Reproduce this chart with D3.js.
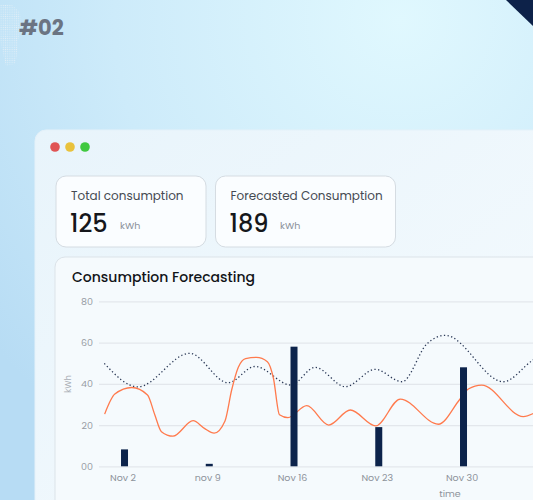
<!DOCTYPE html>
<html>
<head>
<meta charset="utf-8">
<script src="https://cdn.jsdelivr.net/npm/d3@7"></script>
<style>
  html, body { margin: 0; padding: 0; overflow: hidden; background: #c4e6f8; }
  svg { display: block; font-family: Poppins, Inter, "Open Sans", sans-serif; }
</style>
</head>
<body>
<svg id="chart" width="533" height="500"></svg>
<script>
// ---------- data ----------
const barDays = [2, 9, 16, 23, 30];
const tickLabels = ["Nov 2", "nov 9", "Nov 16", "Nov 23", "Nov 30"];
const actualValues = [8.2, 1.2, 58, 19, 48];

const yTicks = [0, 20, 40, 60, 80];
const yTickLabels = ["00", "20", "40", "60", "80"];

// consumption curve (solid orange) – day of November, kWh
const consumptionDays = [0.36, 1.2, 2.6, 3.9, 4.5, 5.05, 6.0, 7.66, 8.6, 9.4, 10.3, 10.85, 11.4, 12.0, 12.9, 13.8, 14.3, 14.8, 15.5, 17.05, 18.87, 20.65, 22.75, 24.78, 27.92, 29.7, 30.4, 31.5, 34.94, 35.8];
const consumptionValues = [25.3, 35, 38.2, 34.6, 25, 16.8, 14.6, 22.1, 18.4, 16.1, 22, 37, 48, 52.2, 52.8, 50.7, 42.7, 25, 23.6, 29.4, 20.0, 27.3, 19.6, 32.6, 20.4, 32.5, 37.5, 39.4, 24.1, 25.7];

// forecast curve (dotted)
const forecastDays = [0.33, 3.1, 7.38, 10.55, 12.78, 15.75, 17.73, 20.25, 22.71, 24.92, 27.0, 28.5, 33.29, 35.74, 36.5];
const forecastValues = [49.9, 38.5, 54.8, 40.5, 48.4, 39.4, 48.0, 38.6, 47.0, 41.0, 59.5, 63.5, 41.0, 51.5, 54];

const totalConsumption = "125";
const forecastedConsumption = "189";

// ---------- drawing ----------
const svg = d3.select("#chart");
const defs = svg.append("defs");

const bg = defs.append("radialGradient").attr("id", "bg")
  .attr("gradientUnits", "userSpaceOnUse")
  .attr("cx", 400).attr("cy", 20).attr("r", 520);
bg.append("stop").attr("offset", 0).attr("stop-color", "#e0f8fe");
bg.append("stop").attr("offset", 0.55).attr("stop-color", "#cdebfa");
bg.append("stop").attr("offset", 1).attr("stop-color", "#b7dcf4");

const win = defs.append("linearGradient").attr("id", "win")
  .attr("x1", 0).attr("y1", 0).attr("x2", 1).attr("y2", 1);
win.append("stop").attr("offset", 0).attr("stop-color", "#e8f4fb");
win.append("stop").attr("offset", 1).attr("stop-color", "#f6fbfe");

const dots = defs.append("pattern").attr("id", "dots")
  .attr("patternUnits", "userSpaceOnUse").attr("width", 2.2).attr("height", 2.2);
dots.append("circle").attr("cx", 1.1).attr("cy", 1.1).attr("r", 0.55).attr("fill", "#e4eff7");

svg.append("rect").attr("width", 533).attr("height", 500).attr("fill", "url(#bg)");

// dotted decoration
svg.append("path")
  .attr("d", "M0,5 L12,5 L20,12 L21,28 L18,40 L17,55 L15,64 L6,66 L3,54 L1,44 L0,40 Z")
  .attr("fill", "url(#dots)").attr("opacity", 0.95);

svg.append("text").attr("x", 19).attr("y", 35)
  .attr("font-size", 21).attr("font-weight", 700).attr("fill", "#6b7482")
  .text("#02");

// top-right triangle
svg.append("path").attr("d", "M506,0 L533,0 L533,26 Z").attr("fill", "#0d2249");

// window card
svg.append("rect").attr("x", 35).attr("y", 130).attr("width", 520).attr("height", 400)
  .attr("rx", 11).attr("fill", "url(#win)").attr("stroke", "#e4f1f9").attr("stroke-width", 1);

const lights = [["#e05454", 55], ["#e9c23c", 70], ["#40c940", 85]];
svg.selectAll("circle.light").data(lights).join("circle")
  .attr("cx", d => d[1]).attr("cy", 147).attr("r", 4.8).attr("fill", d => d[0]);

// stat cards
const cards = [
  { x: 56, w: 150, label: "Total consumption", value: totalConsumption, unitX: 120 },
  { x: 215.5, w: 180, label: "Forecasted Consumption", value: forecastedConsumption, unitX: 280 }
];
cards.forEach(c => {
  svg.append("rect").attr("x", c.x).attr("y", 176).attr("width", c.w).attr("height", 71)
    .attr("rx", 10).attr("fill", "#fafdff").attr("stroke", "#d5dce2");
  svg.append("text").attr("x", c.x + 15).attr("y", 200).attr("font-size", 12)
    .attr("fill", "#454a52").text(c.label);
  svg.append("text").attr("x", c.x + 14).attr("y", 231.5).attr("font-size", 24)
    .attr("font-weight", 500).attr("fill", "#15171b").text(c.value);
  svg.append("text").attr("x", c.unitX).attr("y", 228.5).attr("font-size", 9.5)
    .attr("fill", "#8a9099").text("kWh");
});

// chart card
svg.append("rect").attr("x", 55).attr("y", 257).attr("width", 500).attr("height", 280)
  .attr("rx", 10).attr("fill", "#f5fafd").attr("stroke", "#dce3e9");
svg.append("text").attr("x", 72).attr("y", 282.3).attr("font-size", 14)
  .attr("font-weight", 500).attr("fill", "#111418").text("Consumption Forecasting");

// scales
const x = d3.scaleLinear().domain([0, 36]).range([100.3, 100.3 + 36 * 12.107]);
const y = d3.scaleLinear().domain([0, 80]).range([466.3, 301.3]);

// grid
const yAxis = d3.axisLeft(y).tickValues(yTicks).tickSize(-(560 - 99))
  .tickFormat((d, i) => yTickLabels[i]);
const gy = svg.append("g").attr("transform", "translate(99,0)").call(yAxis);
gy.select(".domain").remove();
gy.selectAll(".tick line").attr("stroke", "#e3e7ec").attr("stroke-width", 1.2);
gy.selectAll(".tick text").attr("x", -6).attr("font-size", 9.5).attr("fill", "#979ca4")
  .attr("font-family", "Poppins, Inter, sans-serif");

// x axis labels
const xAxis = d3.axisBottom(x).tickValues(barDays).tickSize(0)
  .tickFormat((d, i) => tickLabels[i]);
const gx = svg.append("g").attr("transform", "translate(-2,471)").call(xAxis);
gx.select(".domain").remove();
gx.selectAll(".tick text").attr("font-size", 9.5).attr("fill", "#8d939b")
  .attr("font-family", "Poppins, Inter, sans-serif");

// axis titles
svg.append("text").attr("transform", "translate(71,384) rotate(-90)")
  .attr("text-anchor", "middle").attr("font-size", 8.5).attr("fill", "#a9aeb5").text("kWh");
svg.append("text").attr("x", 450).attr("y", 497).attr("text-anchor", "middle")
  .attr("font-size", 9.5).attr("fill", "#8d939b").text("time");

// clip
defs.append("clipPath").attr("id", "plot").append("rect")
  .attr("x", 99).attr("y", 290).attr("width", 460).attr("height", 180);
const plot = svg.append("g").attr("clip-path", "url(#plot)");

const line = d3.line().x(d => x(d[0])).y(d => y(d[1])).curve(d3.curveMonotoneX);

plot.append("path")
  .datum(forecastDays.map((d, i) => [d, forecastValues[i]]))
  .attr("d", line).attr("fill", "none").attr("stroke", "#2a3856")
  .attr("stroke-width", 1.3).attr("stroke-dasharray", "1.3 2.4");

plot.append("path")
  .datum(consumptionDays.map((d, i) => [d, consumptionValues[i]]))
  .attr("d", line).attr("fill", "none").attr("stroke", "#ff7a4d")
  .attr("stroke-width", 1.3);

plot.selectAll("rect.bar").data(barDays).join("rect").attr("class", "bar")
  .attr("x", d => x(d) - 3.5).attr("width", 7)
  .attr("y", (d, i) => y(actualValues[i]))
  .attr("height", (d, i) => y(0) - y(actualValues[i]))
  .attr("fill", "#0c234b");
</script>
</body>
</html>
